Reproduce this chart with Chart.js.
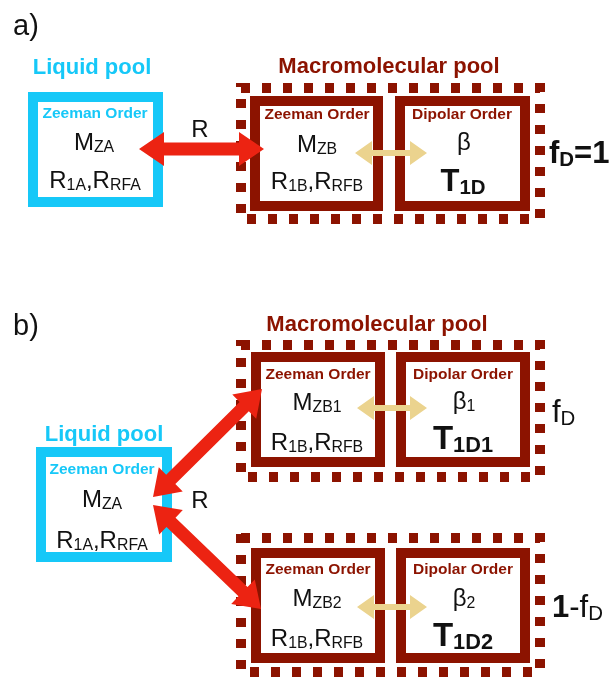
<!DOCTYPE html>
<html>
<head>
<meta charset="utf-8">
<script src="https://cdn.jsdelivr.net/npm/chart.js@4"></script>
<style>
  html, body { margin: 0; padding: 0; background: #fff; }
  #wrap { width: 616px; height: 680px; position: relative; }
</style>
</head>
<body>
<div id="wrap"><canvas id="diagram"></canvas></div>
<script>
  // figure units = pixels of the original 616x680 figure, y going down
  // boxes are [left, top, right, bottom] of the stroke centre line
  const liquidBoxes  = [[33, 97, 158, 202], [41, 452, 167, 557]];
  const zeemanBoxes  = [[255, 101, 378, 206], [256, 357, 380, 462], [256, 553, 380, 658]];
  const dipolarBoxes = [[400, 101, 525, 206], [401, 357, 525, 462], [401, 553, 525, 658]];
  const poolBoxes    = [[241, 88, 540, 219], [241, 345, 540, 477], [241, 538, 540, 672]];

  // double arrows [x1, y1, x2, y2]
  const exchangeArrows = [[139, 149, 264, 149], [153, 497, 262, 389], [153, 505, 261, 609]];
  const dipolarArrows  = [[355, 153, 427, 153], [357, 408, 427, 408], [357, 607, 427, 607]];

  // text: [x, y, style, colour, parts]; parts are [text, kind] with kind s = subscript, b = bold
  const labels = [
    [13, 25, 'panel', 'black', [['a)']]],
    [92, 66, 'pool', 'cyan', [['Liquid pool']]],
    [95, 112, 'order', 'cyan', [['Zeeman Order']]],
    [94, 141, 'sym', 'black', [['M'], ['ZA', 's']]],
    [95, 179, 'sym', 'black', [['R'], ['1A', 's'], [','], ['R'], ['RFA', 's']]],
    [200, 128, 'sym', 'black', [['R']]],
    [389, 65, 'pool', 'red', [['Macromolecular pool']]],
    [317, 113, 'order', 'red', [['Zeeman Order']]],
    [317, 143, 'sym', 'black', [['M'], ['ZB', 's']]],
    [317, 180, 'sym', 'black', [['R'], ['1B', 's'], [','], ['R'], ['RFB', 's']]],
    [462, 113, 'order', 'red', [['Dipolar Order']]],
    [464, 141, 'sym', 'black', [['β']]],
    [463, 180, 'time', 'black', [['T', 'b'], ['1D', 'bs']]],
    [549, 152, 'frac', 'black', [['f', 'b'], ['D', 'bs'], ['=1', 'b']]],

    [13, 325, 'panel', 'black', [['b)']]],
    [104, 433, 'pool', 'cyan', [['Liquid pool']]],
    [102, 468, 'order', 'cyan', [['Zeeman Order']]],
    [102, 498, 'sym', 'black', [['M'], ['ZA', 's']]],
    [102, 539, 'sym', 'black', [['R'], ['1A', 's'], [','], ['R'], ['RFA', 's']]],
    [200, 499, 'sym', 'black', [['R']]],
    [377, 323, 'pool', 'red', [['Macromolecular pool']]],
    [318, 373, 'order', 'red', [['Zeeman Order']]],
    [317, 401, 'sym', 'black', [['M'], ['ZB1', 's']]],
    [317, 441, 'sym', 'black', [['R'], ['1B', 's'], [','], ['R'], ['RFB', 's']]],
    [463, 373, 'order', 'red', [['Dipolar Order']]],
    [464, 400, 'sym', 'black', [['β'], ['1', 's']]],
    [463, 437, 'timeB', 'black', [['T'], ['1D1', 's']]],
    [552, 411, 'frac', 'black', [['f'], ['D', 's']]],
    [318, 568, 'order', 'red', [['Zeeman Order']]],
    [317, 597, 'sym', 'black', [['M'], ['ZB2', 's']]],
    [317, 637, 'sym', 'black', [['R'], ['1B', 's'], [','], ['R'], ['RFB', 's']]],
    [463, 568, 'order', 'red', [['Dipolar Order']]],
    [464, 597, 'sym', 'black', [['β'], ['2', 's']]],
    [463, 634, 'timeB', 'black', [['T'], ['1D2', 's']]],
    [552, 606, 'frac', 'black', [['1', 'b'], ['-f'], ['D', 's']]]
  ];

  const colours = { cyan: '#16c8f8', red: '#8c1300', black: '#111111', arrow: '#ec2312', beige: '#ebd38e' };
  const styles = {
    panel: { size: 29, weight: 'normal', align: 'left' },
    pool:  { size: 22, weight: 'bold',   align: 'center' },
    order: { size: 15.5, weight: 'bold', align: 'center' },
    sym:   { size: 24, weight: 'normal', align: 'center' },
    time:  { size: 31, weight: 'bold',   align: 'center' },
    timeB: { size: 33, weight: 'bold',   align: 'center' },
    frac:  { size: 31, weight: 'normal', align: 'left' }
  };
  const FONT = '"Liberation Sans", Arial, sans-serif';

  function outline(b) {
    const [l, t, r, bt] = b;
    return [{x: l, y: t}, {x: r, y: t}, {x: r, y: bt}, {x: l, y: bt}, {x: l, y: t - 5}];
  }

  function boxSet(list, colour, dashed) {
    return list.map(b => ({
      data: outline(b),
      showLine: true,
      borderColor: colour,
      borderWidth: 10,
      borderDash: dashed ? [9, 12] : [],
      borderCapStyle: 'butt',
      borderJoinStyle: 'miter',
      pointRadius: 0,
      tension: 0,
      fill: false,
      clip: false
    }));
  }

  function doubleArrow(ctx, x1, y1, x2, y2, shaft, headLen, headHalf) {
    const len = Math.hypot(x2 - x1, y2 - y1);
    const ux = (x2 - x1) / len, uy = (y2 - y1) / len;
    const nx = -uy, ny = ux;
    const p = (bx, by, along, side) => [bx + ux * along + nx * side, by + uy * along + ny * side];
    const pts = [
      [x1, y1],
      p(x1, y1, headLen, headHalf), p(x1, y1, headLen, shaft),
      p(x2, y2, -headLen, shaft), p(x2, y2, -headLen, headHalf),
      [x2, y2],
      p(x2, y2, -headLen, -headHalf), p(x2, y2, -headLen, -shaft),
      p(x1, y1, headLen, -shaft), p(x1, y1, headLen, -headHalf)
    ];
    ctx.beginPath();
    pts.forEach((q, i) => i ? ctx.lineTo(q[0], q[1]) : ctx.moveTo(q[0], q[1]));
    ctx.closePath();
    ctx.fill();
  }

  function drawLabel(ctx, px, py, st, colour, parts) {
    const sub = st.size * 0.66;
    const fontOf = kind => {
      const bold = kind.includes('b') || st.weight === 'bold';
      const size = kind.includes('s') ? sub : st.size;
      return (bold ? 'bold ' : '') + size + 'px ' + FONT;
    };
    let total = 0;
    parts.forEach(([t, k = '']) => { ctx.font = fontOf(k); total += ctx.measureText(t).width; });
    let x = st.align === 'left' ? px : px - total / 2;
    const base = py + st.size * 0.358;
    ctx.fillStyle = colour;
    ctx.textAlign = 'left';
    ctx.textBaseline = 'alphabetic';
    parts.forEach(([t, k = '']) => {
      ctx.font = fontOf(k);
      ctx.fillText(t, x, base + (k.includes('s') ? st.size * 0.1 : 0));
      x += ctx.measureText(t).width;
    });
  }

  const overlay = {
    id: 'overlay',
    afterDatasetsDraw(chart) {
      const { ctx, scales: { x, y } } = chart;
      ctx.save();
      ctx.fillStyle = colours.arrow;
      exchangeArrows.forEach(a => doubleArrow(ctx, x.getPixelForValue(a[0]), y.getPixelForValue(a[1]),
        x.getPixelForValue(a[2]), y.getPixelForValue(a[3]), 6.5, 25, 17));
      ctx.fillStyle = colours.beige;
      dipolarArrows.forEach(a => doubleArrow(ctx, x.getPixelForValue(a[0]), y.getPixelForValue(a[1]),
        x.getPixelForValue(a[2]), y.getPixelForValue(a[3]), 3, 17, 12));
      labels.forEach(([lx, ly, s, c, parts]) =>
        drawLabel(ctx, x.getPixelForValue(lx), y.getPixelForValue(ly), styles[s], colours[c], parts));
      ctx.restore();
    }
  };

  new Chart(document.getElementById('diagram'), {
    type: 'scatter',
    data: {
      datasets: [
        ...boxSet(poolBoxes, colours.red, true),
        ...boxSet(liquidBoxes, colours.cyan, false),
        ...boxSet(zeemanBoxes, colours.red, false),
        ...boxSet(dipolarBoxes, colours.red, false)
      ]
    },
    options: {
      responsive: true,
      maintainAspectRatio: false,
      animation: false,
      events: [],
      layout: { padding: 0 },
      plugins: { legend: { display: false }, tooltip: { enabled: false } },
      scales: {
        x: { type: 'linear', min: 0, max: 616, display: false },
        y: { type: 'linear', min: 0, max: 680, reverse: true, display: false }
      }
    },
    plugins: [overlay]
  });
</script>
</body>
</html>
